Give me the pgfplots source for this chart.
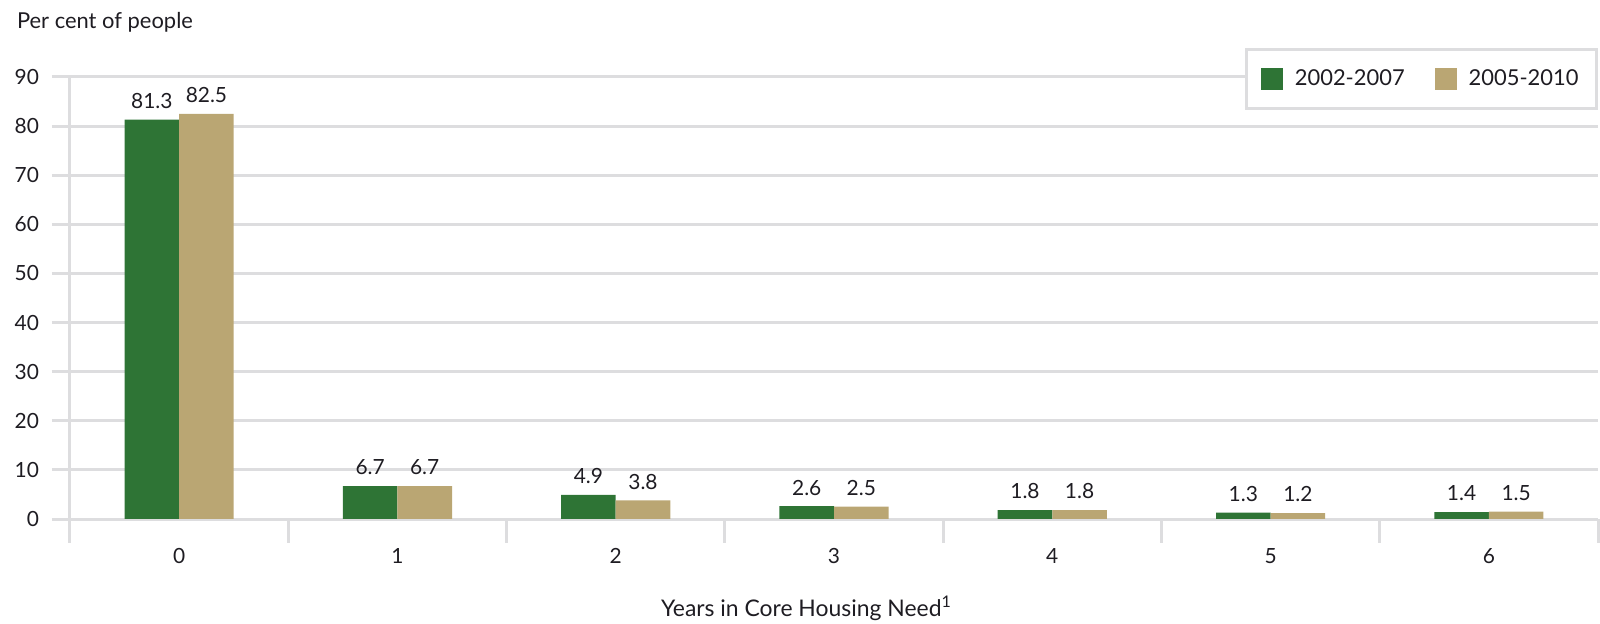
\documentclass[border=0pt]{standalone}
\usepackage{pgfplots}
\pgfplotsset{compat=1.18}
\usepackage{pgfplotstable}
\usepackage{fontspec}
\setmainfont{Lato}

\definecolor{barGreen}{RGB}{46,116,53}
\definecolor{barTan}{RGB}{186,166,115}
\definecolor{gridGray}{RGB}{221,221,223}
\definecolor{ink}{RGB}{30,28,34}

% Share of people by number of years spent in core housing need
\pgfplotstableread{
years  pA    pB
0      81.3  82.5
1      6.7   6.7
2      4.9   3.8
3      2.6   2.5
4      1.8   1.8
5      1.3   1.2
6      1.4   1.5
}\housingdata

\begin{document}
\begin{tikzpicture}
\path[use as bounding box] (0,0) rectangle (800bp,312bp);
\node[anchor=west, text=ink, font=\fontsize{11}{13}\selectfont] at (5bp,301bp) {Per cent of people};
\begin{axis}[
  at={(35bp,52.5bp)}, anchor=south west,
  scale only axis, width=764bp, height=221bp,
  xmin=-0.5, xmax=6.5, ymin=0, ymax=90,
  axis x line*=bottom, axis y line*=left,
  axis line style={draw=gridGray, line width=1.5bp, -},
  ytick={0,10,...,90},
  xtick={0,...,6},
  xticklabels={0,1,2,3,4,5,6},
  minor xtick={-0.5,0.5,...,6.5},
  tick align=outside,
  major tick length=9bp, minor tick length=12bp,
  tick style={draw=gridGray, line width=1.5bp},
  major x tick style={draw=none},
  ymajorgrids, xmajorgrids=false, xminorgrids=false,
  grid style={draw=gridGray, line width=1.5bp},
  tick label style={font=\fontsize{10.5}{12}\selectfont, text=ink},
  /pgf/number format/assume math mode=true,
  yticklabel style={xshift=-3bp},
  xticklabel style={yshift=-2bp},
  xlabel={Years in Core Housing Need\textsuperscript{1}},
  x label style={at={(rel axis cs:0.482,0)}, anchor=center, yshift=-44.5bp,
    font=\fontsize{11.5}{13}\selectfont, text=ink},
  ybar, bar width=0.25,
  nodes near coords,
  nodes near coords style={font=\fontsize{10.5}{12}\selectfont, text=ink, yshift=2bp,
    /pgf/number format/.cd, fixed, precision=1, fixed zerofill, assume math mode=true},
  legend columns=2,
  legend image code/.code={\fill[#1] (0bp,-5.5bp) rectangle (11bp,5.5bp);},
  legend style={at={(rel axis cs:1,1)}, anchor=north east, yshift=14.5bp,
    draw=gridGray, line width=1.5bp, fill=white,
    font=\fontsize{11}{13}\selectfont, text=ink,
    inner xsep=7bp, inner ysep=8bp,
    /tikz/every odd column/.append style={column sep=4bp},
    /tikz/every even column/.append style={column sep=13bp}},
  legend cell align=left,
]
\addplot[fill=barGreen, draw=none, bar shift=-0.125] table[x=years, y=pA] {\housingdata};
\addplot[fill=barTan, draw=none, bar shift=0.125] table[x=years, y=pB] {\housingdata};
\legend{2002-2007, 2005-2010}
\end{axis}
\end{tikzpicture}
\end{document}
